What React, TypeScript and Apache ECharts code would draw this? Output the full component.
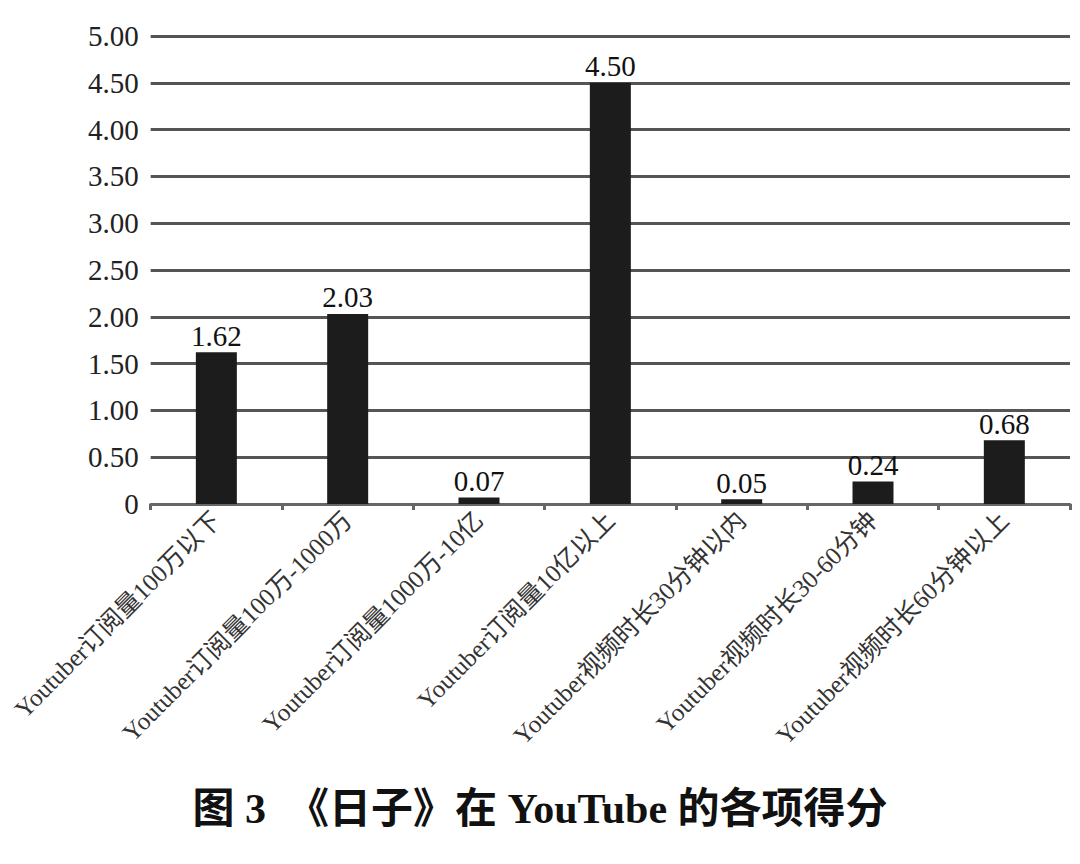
import * as echarts from "echarts";
import { useEffect, useRef } from "react";

const categories = [
  "Youtuber订阅量100万以下",
  "Youtuber订阅量100万-1000万",
  "Youtuber订阅量1000万-10亿",
  "Youtuber订阅量10亿以上",
  "Youtuber视频时长30分钟以内",
  "Youtuber视频时长30-60分钟",
  "Youtuber视频时长60分钟以上",
];
const scores = [1.62, 2.03, 0.07, 4.5, 0.05, 0.24, 0.68];
const chartTitle = "图 3\u3000《日子》在 YouTube 的各项得分";

const serif = "'Liberation Serif', 'Times New Roman', 'Noto Sans CJK SC', serif";

const App = () => {
  const chartRef = useRef<HTMLDivElement | null>(null);

  useEffect(() => {
    const chart = echarts.init(chartRef.current!, null, { renderer: "svg" });

    const option = {
      animation: false,
      backgroundColor: "#ffffff",
      title: {
        text: chartTitle,
        left: "center",
        top: 775,
        textStyle: {
          fontFamily: serif,
          fontWeight: "bold",
          fontSize: 42,
          color: "#111",
        },
      },
      grid: { left: 140, right: 2, top: 28, bottom: 352 },
      xAxis: {
        type: "category",
        data: categories,
        axisLine: { lineStyle: { color: "#666", width: 3 } },
        axisTick: { show: true, length: 6, lineStyle: { color: "#666", width: 3 } },
        axisLabel: {
          rotate: 45,
          interval: 0,
          margin: 12,
          fontFamily: serif,
          fontSize: 25,
          color: "#333",
        },
      },
      yAxis: {
        type: "value",
        min: 0,
        max: 5,
        interval: 0.5,
        axisLine: { show: false },
        axisTick: { show: false },
        splitLine: { lineStyle: { color: "#555", width: 3 } },
        axisLabel: {
          margin: 12,
          fontFamily: serif,
          fontSize: 29,
          color: "#222",
          formatter: (v: number) => (v === 0 ? "0" : v.toFixed(2)),
        },
      },
      series: [
        {
          type: "bar",
          data: scores,
          barWidth: 41,
          itemStyle: { color: "#1c1c1c" },
          label: {
            show: true,
            position: "top",
            distance: 2,
            fontFamily: serif,
            fontSize: 29,
            color: "#111",
            formatter: (p: any) => p.value.toFixed(2),
          },
        },
      ],
    };

    chart.setOption(option);

    return () => {
      chart.dispose();
    };
  }, []);

  return <div ref={chartRef} style={{ width: "1064px", height: "848px" }} />;
};

export default App;
